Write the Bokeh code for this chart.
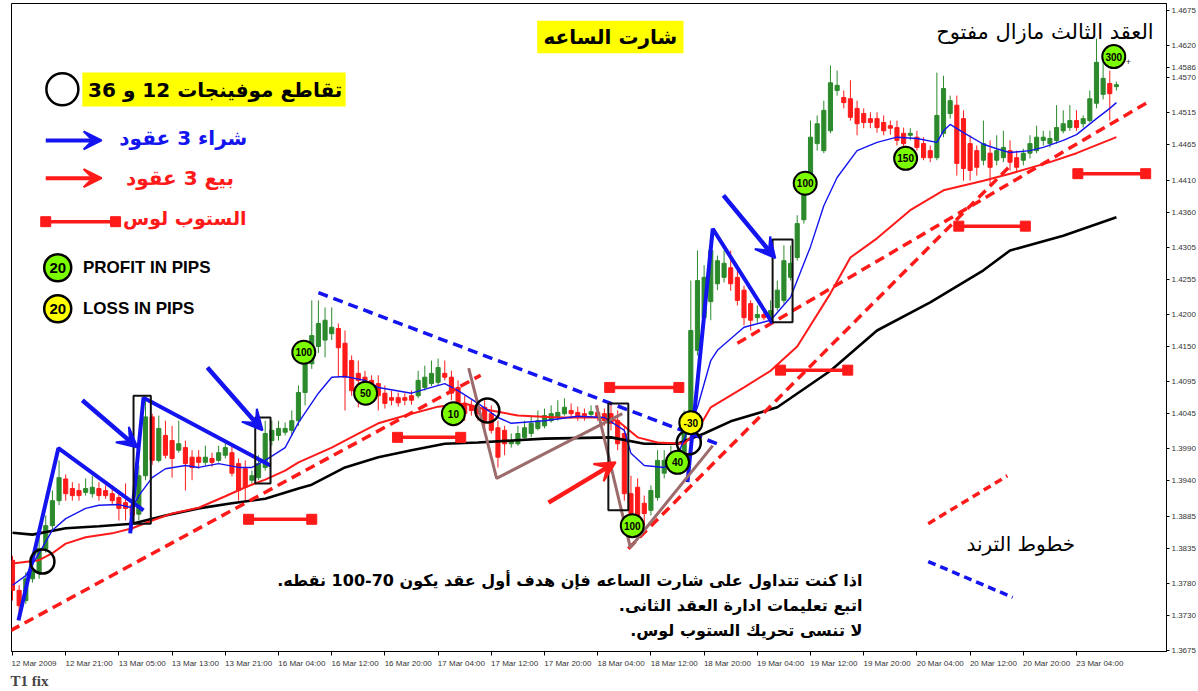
from bokeh.plotting import figure
from bokeh.models import FixedTicker, PrintfTickFormatter, Label, Arrow, VeeHead, Range1d, Title
from bokeh.embed import file_html
from bokeh.resources import INLINE
from bokeh.core.properties import value

# ---------------- candles (EURUSD H1) ----------------
opens = [1.3816,1.3769,1.3753,1.3787,1.3797,1.3834,1.3870,1.3909,1.3943,1.3928,
         1.3925,1.3922,1.3920,1.3928,1.3925,1.3920,1.3914,1.3906,1.3902,1.3888,
         1.3948,1.4040,1.3972,1.4011,1.4003,1.3988,1.3992,1.3977,1.3977,1.3969,
         1.3975,1.3972,1.3980,1.3984,1.3967,1.3959,1.3941,1.3945,1.3961,1.4003,
         1.4011,1.4016,1.4019,1.4034,1.4078,1.4123,1.4150,1.4160,1.4170,1.4178,
         1.4155,1.4128,1.4108,1.4102,1.4097,1.4092,1.4077,1.4070,1.4070,1.4070,
         1.4073,1.4073,1.4086,1.4092,1.4094,1.4108,1.4102,1.4086,1.4061,1.4058,
         1.4055,1.4055,1.4045,1.4023,1.4019,1.3998,1.3998,1.4008,1.4014,1.4022,
         1.4026,1.4034,1.4039,1.4045,1.4050,1.4047,1.4045,1.4044,1.4047,1.4045,
         1.4045,1.4034,1.4014,1.3920,1.3930,1.3905,1.3894,1.3914,1.3952,1.3967,
         1.3972,1.3980,1.4019,1.4144,1.4195,1.4220,1.4248,1.4258,1.4273,1.4258,
         1.4238,1.4217,1.4195,1.4200,1.4194,1.4211,1.4222,1.4258,1.4289,1.4348,
         1.4409,1.4467,1.4456,1.4487,1.4550,1.4539,1.4537,1.4522,1.4514,1.4506,
         1.4506,1.4500,1.4495,1.4492,1.4483,1.4480,1.4477,1.4467,1.4456,1.4445,
         1.4483,1.4514,1.4527,1.4506,1.4467,1.4456,1.4441,1.4452,1.4441,1.4445,
         1.4456,1.4445,1.4441,1.4452,1.4456,1.4472,1.4467,1.4472,1.4487,1.4492,
         1.4503,1.4498,1.4503,1.4530,1.4544,1.4561,1.4556]
closes = [1.3769,1.3745,1.3787,1.3800,1.3834,1.3870,1.3909,1.3945,1.3920,1.3917,
          1.3917,1.3928,1.3930,1.3917,1.3917,1.3909,1.3897,1.3897,1.3886,1.3948,
          1.4040,1.3972,1.4022,1.3980,1.3975,1.3998,1.3967,1.3961,1.3969,1.3977,
          1.3969,1.3984,1.3992,1.3952,1.3925,1.3930,1.3948,1.3967,1.4014,1.4019,
          1.4022,1.4022,1.4034,1.4078,1.4123,1.4167,1.4186,1.4191,1.4180,1.4148,
          1.4102,1.4081,1.4097,1.4081,1.4081,1.4073,1.4061,1.4066,1.4062,1.4066,
          1.4066,1.4097,1.4102,1.4108,1.4117,1.4102,1.4077,1.4055,1.4045,1.4050,
          1.4045,1.4034,1.4019,1.3977,1.3998,1.4003,1.4014,1.4023,1.4030,1.4034,
          1.4042,1.4045,1.4047,1.4055,1.4045,1.4042,1.4042,1.4048,1.4039,1.4034,
          1.4030,1.3998,1.3920,1.3889,1.3878,1.3889,1.3925,1.3972,1.3972,1.3977,
          1.3984,1.4034,1.4175,1.4253,1.4258,1.4300,1.4284,1.4280,1.4248,1.4222,
          1.4195,1.4191,1.4200,1.4195,1.4206,1.4238,1.4284,1.4280,1.4342,1.4405,
          1.4477,1.4498,1.4519,1.4562,1.4558,1.4531,1.4508,1.4498,1.4500,1.4500,
          1.4492,1.4487,1.4491,1.4472,1.4467,1.4483,1.4461,1.4445,1.4445,1.4511,
          1.4553,1.4534,1.4436,1.4428,1.4425,1.4430,1.4467,1.4430,1.4456,1.4461,
          1.4438,1.4430,1.4452,1.4467,1.4477,1.4477,1.4475,1.4492,1.4498,1.4503,
          1.4492,1.4506,1.4537,1.4594,1.4569,1.4545,1.4559]
highs = [1.3823,1.3777,1.3797,1.3816,1.3863,1.3886,1.3925,1.3972,1.3950,1.3938,
         1.3936,1.3944,1.3948,1.3938,1.3933,1.3933,1.3925,1.3936,1.3912,1.3964,
         1.4068,1.4045,1.4042,1.4034,1.4026,1.4034,1.4003,1.3988,1.3988,1.3995,
         1.3984,1.3995,1.4003,1.3995,1.3975,1.3972,1.3956,1.3980,1.4034,1.4034,
         1.4034,1.4031,1.4050,1.4089,1.4136,1.4222,1.4222,1.4211,1.4211,1.4186,
         1.4175,1.4136,1.4128,1.4112,1.4105,1.4105,1.4089,1.4081,1.4078,1.4077,
         1.4081,1.4112,1.4120,1.4128,1.4131,1.4128,1.4112,1.4097,1.4073,1.4066,
         1.4066,1.4066,1.4058,1.4034,1.4026,1.4014,1.4026,1.4034,1.4042,1.4050,
         1.4053,1.4058,1.4066,1.4069,1.4061,1.4056,1.4053,1.4058,1.4058,1.4053,
         1.4061,1.4050,1.4026,1.3948,1.3944,1.3917,1.3933,1.3988,1.3988,1.3995,
         1.4003,1.4050,1.4253,1.4300,1.4277,1.4316,1.4292,1.4300,1.4300,1.4269,
         1.4245,1.4222,1.4214,1.4205,1.4222,1.4253,1.4308,1.4308,1.4355,1.4417,
         1.4503,1.4511,1.4534,1.4589,1.4581,1.4550,1.4566,1.4534,1.4522,1.4516,
         1.4516,1.4511,1.4503,1.4503,1.4492,1.4491,1.4487,1.4477,1.4464,1.4578,
         1.4573,1.4542,1.4542,1.4519,1.4480,1.4464,1.4503,1.4472,1.4480,1.4487,
         1.4472,1.4456,1.4459,1.4480,1.4495,1.4487,1.4487,1.4527,1.4519,1.4527,
         1.4519,1.4511,1.4550,1.4631,1.4600,1.4581,1.4564]
lows = [1.3753,1.3722,1.3748,1.3781,1.3787,1.3828,1.3863,1.3902,1.3909,1.3909,
        1.3909,1.3917,1.3914,1.3909,1.3912,1.3902,1.3878,1.3878,1.3863,1.3878,
        1.3941,1.3965,1.3969,1.3975,1.3945,1.3984,1.3925,1.3941,1.3959,1.3964,
        1.3962,1.3969,1.3975,1.3947,1.3909,1.3909,1.3936,1.3941,1.3956,1.3995,
        1.4003,1.4011,1.4011,1.4026,1.4058,1.4115,1.4140,1.4133,1.4160,1.4102,
        1.4050,1.4073,1.4055,1.4066,1.4069,1.4050,1.4053,1.4058,1.4056,1.4058,
        1.4059,1.4069,1.4081,1.4088,1.4089,1.4097,1.4066,1.4034,1.4034,1.4042,
        1.4034,1.4019,1.4014,1.3961,1.3980,1.3992,1.3995,1.4003,1.4008,1.4019,
        1.4022,1.4031,1.4034,1.4042,1.4037,1.4034,1.4034,1.4039,1.4034,1.4026,
        1.4019,1.3988,1.3909,1.3878,1.3847,1.3870,1.3886,1.3909,1.3944,1.3961,
        1.3967,1.3961,1.4011,1.4136,1.4191,1.4191,1.4238,1.4250,1.4237,1.4214,
        1.4183,1.4175,1.4187,1.4191,1.4187,1.4206,1.4217,1.4253,1.4284,1.4342,
        1.4402,1.4456,1.4452,1.4483,1.4542,1.4522,1.4503,1.4480,1.4491,1.4491,
        1.4484,1.4480,1.4481,1.4464,1.4456,1.4472,1.4456,1.4441,1.4438,1.4441,
        1.4477,1.4506,1.4417,1.4409,1.4409,1.4417,1.4433,1.4402,1.4433,1.4438,
        1.4425,1.4422,1.4433,1.4444,1.4452,1.4464,1.4461,1.4467,1.4483,1.4487,
        1.4487,1.4492,1.4500,1.4522,1.4536,1.4503,1.4550]
bar_idx = list(range(len(closes)))

# ---------------- moving averages (read at bar indices) ----------------
blue_ma_idx = [0,2,4,6,8,11,13,16,18,19,21,23,26,28,31,34,36,38,41,43,46,48,50,53,55,60,63,65,67,70,
               73,75,80,85,89,92,93,95,98,100,103,105,106,110,114,117,120,122,124,127,130,133,136,139,140,
               141,143,146,148,150,153,155,158,160,163,165,166]
blue_ma = [1.3777,1.3792,1.3827,1.3863,1.3881,1.3897,1.3902,1.3903,1.3898,1.3917,1.3945,1.3959,1.3964,1.3961,1.3967,
           1.3961,1.3961,1.3972,1.3992,1.4031,1.4077,1.4102,1.4103,1.4097,1.4086,1.4077,1.4086,1.4092,1.4081,1.4061,
           1.4039,1.4030,1.4034,1.4041,1.4039,1.4019,1.3983,1.3964,1.3961,1.3980,1.4055,1.4128,1.4144,1.4180,1.4191,
           1.4227,1.4306,1.4370,1.4414,1.4456,1.4469,1.4477,1.4475,1.4469,1.4487,1.4497,1.4484,1.4466,1.4459,1.4453,
           1.4456,1.4461,1.4472,1.4481,1.4506,1.4522,1.4531]
red_ma_idx = [0,4,6,8,11,15,18,21,24,28,32,35,38,41,43,48,52,55,60,64,68,71,76,82,88,91,94,97,101,103,
              105,110,114,118,123,126,130,135,140,146,150,156,160,166]
red_ma = [1.3811,1.3816,1.3827,1.3842,1.3852,1.3858,1.3866,1.3878,1.3889,1.3898,1.3916,1.3930,1.3942,1.3956,1.3969,
          1.3992,1.4014,1.4030,1.4045,1.4056,1.4061,1.4052,1.4042,1.4039,1.4039,1.4034,1.4008,1.4000,1.3998,1.4019,
          1.4055,1.4086,1.4112,1.4150,1.4233,1.4289,1.4319,1.4363,1.4394,1.4409,1.4420,1.4438,1.4452,1.4477]
black_ma_idx = [0,3,8,13,18,23,28,33,38,43,45,50,55,60,65,70,80,90,95,100,104,108,115,123,130,138,146,150,158,166]
black_ma = [1.3859,1.3856,1.3866,1.3869,1.3873,1.3886,1.3897,1.3905,1.3912,1.3928,1.3934,1.3961,1.3977,1.3988,1.3998,
            1.4000,1.4006,1.4008,1.3998,1.3998,1.4014,1.4033,1.4055,1.4112,1.4175,1.4219,1.4269,1.4300,1.4323,1.4352]

# ---------------- axis ticks ----------------
price_ticks = [1.4675,1.4620,1.4586,1.4570,1.4515,1.4465,1.4410,1.4360,1.4305,1.4255,1.4200,
               1.4150,1.4095,1.4045,1.3990,1.3940,1.3885,1.3835,1.3780,1.3730,1.3675]
date_tick_idx = [0,8,16,24,32,40,48,56,64,72,80,88,96,104,112,120,128,136,144,152,160]
date_labels = ["12 Mar 2009","12 Mar 21:00","13 Mar 05:00","13 Mar 13:00","13 Mar 21:00","16 Mar 04:00",
               "16 Mar 12:00","16 Mar 20:00","17 Mar 04:00","17 Mar 12:00","17 Mar 20:00","18 Mar 04:00",
               "18 Mar 12:00","18 Mar 20:00","19 Mar 04:00","19 Mar 12:00","19 Mar 20:00","20 Mar 04:00",
               "20 Mar 12:00","20 Mar 20:00","23 Mar 04:00"]

# ---------------- annotations (bar index, price) ----------------
red_trend_x0 = [-0.3, 92.6, 109.0]
red_trend_y0 = [1.3706, 1.3834, 1.4155]
red_trend_x1 = [70.4, 150.1, 171.1]
red_trend_y1 = [1.4105, 1.4433, 1.4534]
blue_trend_x0 = [46.0]; blue_trend_y0 = [1.4234]
blue_trend_x1 = [106.0]; blue_trend_y1 = [1.3998]

zigzag_xs = [[0.9, 6.9, 19.7], [17.7, 19.7, 38.8], [101.5, 105.3, 114.3]]
zigzag_ys = [[1.3722, 1.3991, 1.3894], [1.3858, 1.4070, 1.3964], [1.3938, 1.4334, 1.4186]]
brown_xs = [[68.6, 72.8, 91.7], [87.8, 92.9, 105.3]]
brown_ys = [[1.4116, 1.3944, 1.4045], [1.4058, 1.3836, 1.3995]]

box_left = [18.2, 36.5, 89.6, 114.3]
box_right = [20.8, 38.8, 92.6, 117.3]
box_top = [1.4073, 1.4039, 1.4061, 1.4317]
box_bottom = [1.3873, 1.3936, 1.3894, 1.4188]

cross_x = [4.5, 71.4, 101.7]
cross_y = [1.3814, 1.4050, 1.4000]

blue_arrows = [(10.5, 1.4066, 18.8, 1.3992), (29.3, 1.4117, 37.6, 1.4019), (106.9, 1.4386, 114.7, 1.4288)]
red_arrows = [(80.6, 1.3906, 90.7, 1.3969)]

stop_x0 = [35.5, 57.9, 89.8, 115.5, 142.3, 160.2]
stop_x1 = [45.0, 67.4, 100.2, 125.6, 152.3, 170.4]
stop_y = [1.3880, 1.4008, 1.4086, 1.4113, 1.4338, 1.4420]

profit_x = [43.8, 53.1, 66.3, 93.2, 100.0, 119.2, 134.3, 165.6]
profit_y = [1.4141, 1.4077, 1.4045, 1.3870, 1.3969, 1.4405, 1.4444, 1.4603]
profit_txt = ["100", "50", "10", "100", "40", "100", "150", "300"]
loss_x = [102.0]; loss_y = [1.4031]; loss_txt = ["-30"]

GREEN = "#2c8a2c"; RED = "#ff1a1a"; BLUE = "#1414f0"; BROWN = "#9c6b6b"
AR = "DejaVu Sans"
NARROW = "Liberation Sans Narrow, Liberation Sans"
NBSP = "\u00a0"

p = figure(frame_width=1155, frame_height=648,
           x_range=Range1d(-0.15, 173.53), y_range=Range1d(1.36734, 1.46859),
           y_axis_location="right", output_backend="svg", toolbar_location=None,
           min_border_left=11, min_border_top=3, min_border_bottom=38, min_border_right=30)
p.background_fill_color = "white"
p.border_fill_color = "white"
p.outline_line_color = "black"
p.grid.visible = False

for ax in (p.xaxis[0], p.yaxis[0]):
    ax.axis_line_color = "black"
    ax.major_tick_line_color = "black"
    ax.minor_tick_line_color = None
    ax.major_tick_in = 0
    ax.major_label_text_font = "Liberation Sans"
    ax.major_label_text_font_size = "8px"
    ax.major_label_text_color = "#333333"
p.yaxis.ticker = FixedTicker(ticks=price_ticks)
p.yaxis.formatter = PrintfTickFormatter(format="%.4f")
p.yaxis.major_tick_out = 3
p.yaxis.major_label_standoff = 2
p.xaxis.ticker = FixedTicker(ticks=date_tick_idx)
# MT4 prints each date to the right of its tick: pad on the left so the text starts at the tick
overrides = {t: NBSP * 21 + s for t, s in zip(date_tick_idx, date_labels)}
overrides[date_tick_idx[0]] = NBSP * 5 + date_labels[0]
p.xaxis.major_label_overrides = overrides
p.xaxis.major_tick_out = 4
p.xaxis.major_label_standoff = 3
p.add_layout(Title(text="T1 fix", align="left", text_font="Liberation Serif", text_font_size="15px",
                   text_font_style="bold", standoff=0, offset=-1), "below")

# candles
colors = [GREEN if c >= o else RED for o, c in zip(opens, closes)]
p.segment(x0=bar_idx, y0=lows, x1=bar_idx, y1=highs, line_color=colors, line_width=1)
p.vbar(x=bar_idx, width=0.62, top=[max(o, c) for o, c in zip(opens, closes)],
       bottom=[min(o, c) for o, c in zip(opens, closes)], fill_color=colors, line_color=colors)

# moving averages
p.line(black_ma_idx, black_ma, line_color="black", line_width=2.6)
p.line(red_ma_idx, red_ma, line_color=RED, line_width=2)
p.line(blue_ma_idx, blue_ma, line_color=BLUE, line_width=1.4)

# trend lines
p.segment(x0=red_trend_x0, y0=red_trend_y0, x1=red_trend_x1, y1=red_trend_y1,
          line_color=RED, line_width=3.5, line_dash="10 6")
p.segment(x0=blue_trend_x0, y0=blue_trend_y0, x1=blue_trend_x1, y1=blue_trend_y1,
          line_color=BLUE, line_width=3.5, line_dash="10 6")
p.multi_line(xs=zigzag_xs, ys=zigzag_ys, line_color=BLUE, line_width=4)
p.multi_line(xs=brown_xs, ys=brown_ys, line_color=BROWN, line_width=3)
p.quad(left=box_left, right=box_right, top=box_top, bottom=box_bottom,
       fill_alpha=0, line_color="#111111", line_width=2)
p.scatter(cross_x, cross_y, size=24, fill_alpha=0, line_color="black", line_width=2.5)

# stop-loss bars
p.segment(x0=stop_x0, y0=stop_y, x1=stop_x1, y1=stop_y, line_color=RED, line_width=3.5)
p.scatter(stop_x0 + stop_x1, stop_y + stop_y, marker="square", size=10, fill_color=RED, line_color=RED)

for xs, ys, xe, ye in blue_arrows:
    p.add_layout(Arrow(x_start=xs, y_start=ys, x_end=xe, y_end=ye, line_color=BLUE, line_width=4.5,
                       end=VeeHead(size=20, fill_color=BLUE, line_color=BLUE, line_width=2)))
for xs, ys, xe, ye in red_arrows:
    p.add_layout(Arrow(x_start=xs, y_start=ys, x_end=xe, y_end=ye, line_color=RED, line_width=4.5,
                       end=VeeHead(size=20, fill_color=RED, line_color=RED, line_width=2)))

# pip circles
p.scatter(profit_x, profit_y, size=23, fill_color="#7cfc00", line_color="black", line_width=2)
p.text(profit_x, profit_y, text=profit_txt, text_align="center", text_baseline="middle",
       text_font=value(NARROW), text_font_size="10px", text_font_style="bold", text_color="black")
p.scatter(loss_x, loss_y, size=23, fill_color="#ffff00", line_color="black", line_width=2)
p.text(loss_x, loss_y, text=loss_txt, text_align="center", text_baseline="middle",
       text_font=value(NARROW), text_font_size="10px", text_font_style="bold", text_color="black")
p.text([167.8], [1.4594], text=["+"], text_align="center", text_baseline="middle",
       text_font_size="9px", text_color="#333333")

# ---------------- legend / notes ----------------
p.quad(left=[78.9, 10.5], right=[100.9, 50.1], top=[1.4659, 1.4578], bottom=[1.4608, 1.4525],
       fill_color="#ffff00", line_alpha=0)
RLM = "\u200f"
def lab(x, y, t, size, color="black", align="center", bold=True, font=AR, base="middle"):
    p.add_layout(Label(x=x, y=y, text=RLM + t + RLM, text_font=font, text_font_size=size,
                       text_font_style="bold" if bold else "normal", text_color=color,
                       text_align=align, text_baseline=base))

lab(89.9, 1.4633, "شارت الساعه", "20px")
lab(49.6, 1.4551, "تقاطع موفينجات 12 و 36", "20px", align="right")
p.scatter([7.5], [1.4552], size=32, fill_alpha=0, line_color="black", line_width=2.5)

p.add_layout(Arrow(x_start=5.0, y_start=1.4472, x_end=13.4, y_end=1.4472, line_color=BLUE, line_width=4,
                   end=VeeHead(size=18, fill_color=BLUE, line_color=BLUE, line_width=2)))
lab(35.3, 1.4476, "شراء 3 عقود", "20px", color=BLUE, align="right")
p.add_layout(Arrow(x_start=5.0, y_start=1.4413, x_end=13.4, y_end=1.4413, line_color=RED, line_width=4,
                   end=VeeHead(size=18, fill_color=RED, line_color=RED, line_width=2)))
lab(33.3, 1.4414, "بيع 3 عقود", "20px", color=RED, align="right")
p.segment(x0=[5.0], y0=[1.4345], x1=[15.5], y1=[1.4345], line_color=RED, line_width=3.5)
p.scatter([5.0, 15.5], [1.4345, 1.4345], marker="square", size=10, fill_color=RED, line_color=RED)
lab(35.2, 1.4350, "الستوب لوس", "19px", color=RED, align="right")

p.scatter([6.8, 6.8], [1.4273, 1.4209], size=27, fill_color=["#7cfc00", "#ffff00"],
          line_color="black", line_width=2.5)
p.text([6.8, 6.8], [1.4273, 1.4209], text=["20", "20"], text_align="center", text_baseline="middle",
       text_font=value(NARROW), text_font_size="15px", text_font_style="bold")
lab(10.6, 1.4273, "PROFIT IN PIPS", "17px", align="left", font=NARROW)
lab(10.6, 1.4209, "LOSS IN PIPS", "17px", align="left", font=NARROW)

lab(171.6, 1.4641, "العقد الثالث مازال مفتوح", "21px", align="right", bold=False)
lab(159.8, 1.3842, "خطوط الترند", "20px", align="right", bold=False)
p.segment(x0=[137.7], y0=[1.3873], x1=[149.6], y1=[1.3948], line_color=RED, line_width=3.5, line_dash="8 5")
p.segment(x0=[137.7], y0=[1.3814], x1=[150.4], y1=[1.3758], line_color=BLUE, line_width=3.5, line_dash="8 5")

lab(127.8, 1.3784, "اذا كنت تتداول على شارت الساعه فإن هدف أول عقد يكون 70-100 نقطه.", "16px", align="right")
lab(127.8, 1.3745, "اتبع تعليمات ادارة العقد الثانى.", "16px", align="right")
lab(127.8, 1.3706, "لا تنسى تحريك الستوب لوس.", "16px", align="right")

open("out.html", "w").write(file_html(p, INLINE))
